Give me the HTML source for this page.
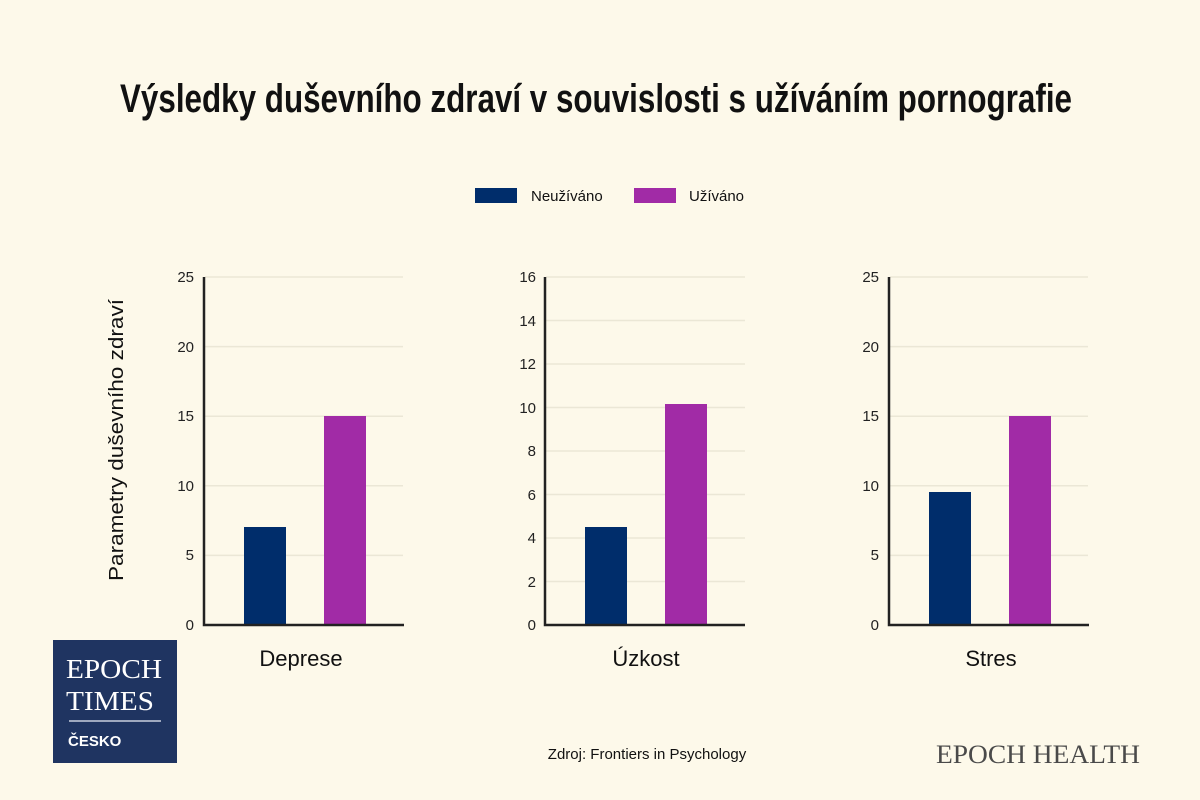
<!DOCTYPE html>
<html><head><meta charset="utf-8"><style>
html,body{margin:0;padding:0;width:1200px;height:800px;overflow:hidden;background:#fdf9e9}
svg{display:block}
</style></head><body>
<svg width="1200" height="800" xmlns="http://www.w3.org/2000/svg">
<rect width="1200" height="800" fill="#fdf9ea"/>
<text x="596" y="112" text-anchor="middle" font-family="Liberation Sans Narrow, Liberation Sans, sans-serif" font-weight="bold" font-size="40" textLength="952" lengthAdjust="spacingAndGlyphs" fill="#111">Výsledky duševního zdraví v souvislosti s užíváním pornografie</text>
<rect x="475" y="188" width="42" height="15" fill="#002d6b"/>
<text x="531" y="201" font-family="Liberation Sans Narrow, Liberation Sans, sans-serif" font-size="15" fill="#111">Neužíváno</text>
<rect x="634" y="188" width="42" height="15" fill="#a12ba6"/>
<text x="689" y="201" font-family="Liberation Sans Narrow, Liberation Sans, sans-serif" font-size="15" fill="#111">Užíváno</text>
<text transform="translate(123,440) rotate(-90)" text-anchor="middle" font-family="Liberation Sans Narrow, Liberation Sans, sans-serif" font-size="20" fill="#111" textLength="282" lengthAdjust="spacingAndGlyphs">Parametry duševního zdraví</text>
<g font-family="Liberation Sans, sans-serif" font-size="15" fill="#222" text-anchor="end">
<!-- chart 1 -->
<g stroke="#ebe7d6" stroke-width="1.5">
<line x1="205" y1="277" x2="403" y2="277"/><line x1="205" y1="346.6" x2="403" y2="346.6"/><line x1="205" y1="416.2" x2="403" y2="416.2"/><line x1="205" y1="485.8" x2="403" y2="485.8"/><line x1="205" y1="555.4" x2="403" y2="555.4"/>
<line x1="546" y1="277" x2="745" y2="277"/><line x1="546" y1="320.5" x2="745" y2="320.5"/><line x1="546" y1="364" x2="745" y2="364"/><line x1="546" y1="407.5" x2="745" y2="407.5"/><line x1="546" y1="451" x2="745" y2="451"/><line x1="546" y1="494.5" x2="745" y2="494.5"/><line x1="546" y1="538" x2="745" y2="538"/><line x1="546" y1="581.5" x2="745" y2="581.5"/>
<line x1="890" y1="277" x2="1088" y2="277"/><line x1="890" y1="346.6" x2="1088" y2="346.6"/><line x1="890" y1="416.2" x2="1088" y2="416.2"/><line x1="890" y1="485.8" x2="1088" y2="485.8"/><line x1="890" y1="555.4" x2="1088" y2="555.4"/>
</g>
<text x="194" y="282">25</text><text x="194" y="352">20</text><text x="194" y="421">15</text><text x="194" y="491">10</text><text x="194" y="560">5</text><text x="194" y="630">0</text>
<text x="536" y="282">16</text><text x="536" y="326">14</text><text x="536" y="369">12</text><text x="536" y="413">10</text><text x="536" y="456">8</text><text x="536" y="500">6</text><text x="536" y="543">4</text><text x="536" y="587">2</text><text x="536" y="630">0</text>
<text x="879" y="282">25</text><text x="879" y="352">20</text><text x="879" y="421">15</text><text x="879" y="491">10</text><text x="879" y="560">5</text><text x="879" y="630">0</text>
</g>
<rect x="244" y="527" width="42" height="98" fill="#002d6b"/>
<rect x="324" y="416" width="42" height="209" fill="#a12ba6"/>
<rect x="585" y="527" width="42" height="98" fill="#002d6b"/>
<rect x="665" y="404" width="42" height="221" fill="#a12ba6"/>
<rect x="929" y="492" width="42" height="133" fill="#002d6b"/>
<rect x="1009" y="416" width="42" height="209" fill="#a12ba6"/>
<g stroke="#222" stroke-width="2.5" fill="none">
<polyline points="204,277 204,625 404,625"/>
<polyline points="545,277 545,625 745,625"/>
<polyline points="889,277 889,625 1089,625"/>
</g>
<g font-family="Liberation Sans Narrow, Liberation Sans, sans-serif" font-size="22" fill="#111" text-anchor="middle">
<text x="301" y="666">Deprese</text><text x="646" y="666">Úzkost</text><text x="991" y="666">Stres</text>
</g>
<text x="647" y="759" text-anchor="middle" font-family="Liberation Sans Narrow, Liberation Sans, sans-serif" font-size="15" fill="#111">Zdroj: Frontiers in Psychology</text>
<rect x="53" y="640" width="124" height="123" fill="#1f3461"/>
<text x="66" y="678" font-family="Liberation Serif, serif" font-size="27" fill="#fff" textLength="96" lengthAdjust="spacingAndGlyphs">EPOCH</text>
<text x="66" y="710" font-family="Liberation Serif, serif" font-size="27" fill="#fff" textLength="88" lengthAdjust="spacingAndGlyphs">TIMES</text>
<line x1="69" y1="721" x2="161" y2="721" stroke="#c8cfdd" stroke-width="1.5"/>
<text x="68" y="746" font-family="Liberation Sans, sans-serif" font-weight="bold" font-size="15" fill="#fff">ČESKO</text>
<text x="1038" y="763" text-anchor="middle" font-family="Liberation Serif, serif" font-size="26" fill="#4a4a4a" textLength="204" lengthAdjust="spacingAndGlyphs">EPOCH HEALTH</text>
</svg>
</body></html>
